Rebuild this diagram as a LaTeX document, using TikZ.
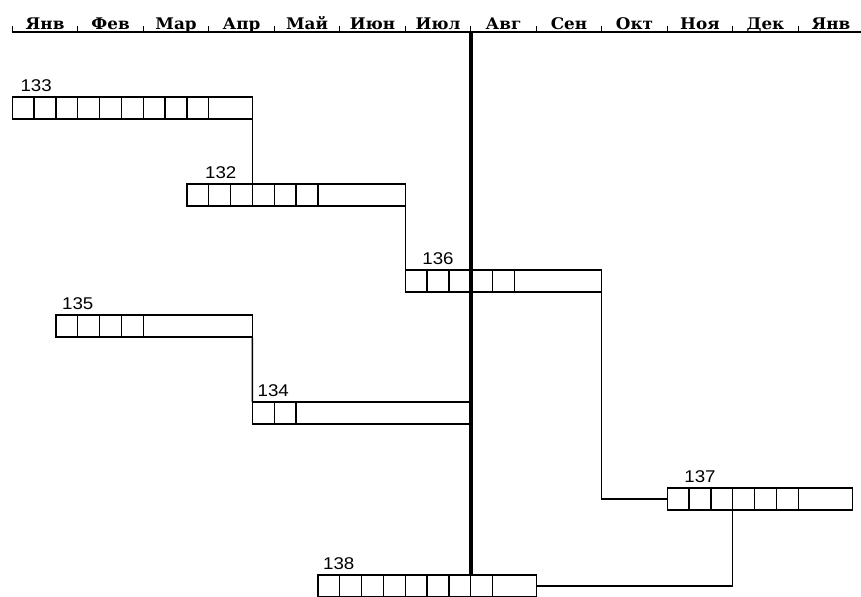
\documentclass[tikz,border=0pt]{standalone}
\usepackage{fontspec}
\setmainfont{Liberation Sans}
\newfontfamily\monthfont{DejaVu Serif}[FakeStretch=1.05]
\newfontfamily\numfont{Liberation Sans}[FakeStretch=1.1]
\def\cw{21.83pt}
\tikzset{
  bar/.style={draw,line width=1.4pt,minimum width=#1*\cw,minimum height=22pt,
    inner sep=0pt,outer sep=0pt,anchor=north west},
  cell/.style={bar=1},
  tasklabel/.style={font=\numfont\fontsize{17}{20}\selectfont,inner sep=0pt,anchor=base west},
  month/.style={font=\monthfont\bfseries\fontsize{16}{18}\selectfont,inner sep=0pt,anchor=base},
  axisline/.style={line width=1.4pt},
  link/.style={line width=1.4pt},
  nowline/.style={line width=4pt}
}
% name, label, start cell, top, divided cells, length, label shift
\newcommand{\taskbar}[7]{%
  \node[bar=#6] (#1) at (#3,#4) {};
  \foreach \k in {1,...,#5}
    \node[cell] (#1-\k) at (#3+\k-1,#4) {};
  \node[tasklabel] (#1-lab) at ([xshift=#7,yshift=5.5pt]#1.north west) {#2};
}

\begin{document}
\begin{tikzpicture}[x=\cw,y=-1pt]
  \useasboundingbox (-0.5635,0) rectangle (38.877,596);
  % time axis
  \draw[axisline] (0,32) -- (38.877,32);
  \foreach \i in {0,...,12}
    \draw[axisline] (3*\i,32) -- ++(0,-6);
  \foreach \m [count=\i from 0] in {Янв,Фев,Мар,Апр,Май,Июн,Июл,Авг,Сен,Окт,Ноя,Дек,Янв}
    \node[month] (m\i) at (3*\i+1.5,29.5) {\m};

  % tasks
  \taskbar{t133}{133}{0}{97}{9}{11}{8pt}
  \taskbar{t132}{132}{8}{184}{6}{10}{18pt}
  \taskbar{t136}{136}{18}{270}{5}{9}{17pt}
  \taskbar{t135}{135}{2}{315}{4}{9}{6pt}
  \taskbar{t134}{134}{11}{402}{2}{10}{5pt}
  \taskbar{t137}{137}{30}{488}{6}{8.5}{17pt}
  \taskbar{t138}{138}{14}{575}{8}{10}{5pt}

  % links
  \draw[link] (t133.south east) -- (t133.south east |- t132.north);
  \draw[link] (t132.south east) -- (t136.north west);
  \draw[link] (t136.south east) |- (t137.west);
  \draw[link] (t135.south east) -- (t134.north west);
  \draw[link] (t137-3.south east) |- (t138.east);

  % current date
  \coordinate (now) at (21,32);
  \draw[nowline] (now) -- (now |- t138.north);
\end{tikzpicture}
\end{document}
